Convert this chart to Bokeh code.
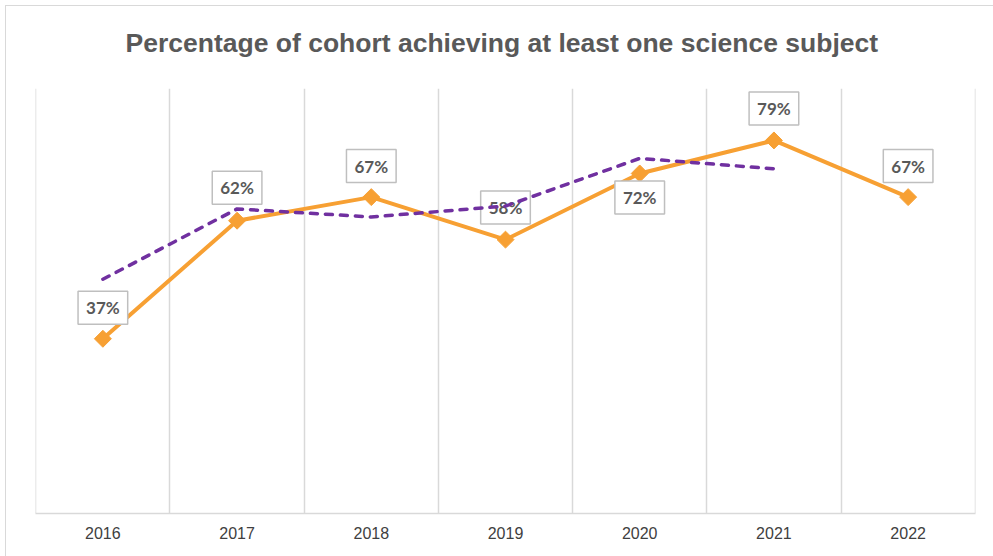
import math
from bokeh.plotting import figure
from bokeh.layouts import column
from bokeh.models import Range1d, FixedTicker, ColumnDataSource
from bokeh.core.properties import value
from bokeh.embed import file_html
from bokeh.resources import INLINE

# ---- data ----
years = [2016, 2017, 2018, 2019, 2020, 2021, 2022]
tick_labels = ["2016", "2017", "2018", "2019", "2020", "2021", "2022"]
cohort_pct = [37, 62, 67, 58, 72, 79, 67]
comparison_years = [2016, 2017, 2018, 2019, 2020, 2021]
comparison_pct = [49.6, 64.5, 62.8, 65.1, 75.2, 73.0]
data_labels = ["37%", "62%", "67%", "58%", "72%", "79%", "67%"]
title_text = "Percentage  of cohort achieving at least one science subject"

# ---- styles ----
label_offsets = [-31, -33, -31, -32, 24, -32, -31]
ORANGE = "#F7A033"
PURPLE = "#7030A0"
GRID = "#D9D9D9"
TXT = "#595959"

eps = 0.002
p = figure(width=987, height=561, output_backend="svg", toolbar_location=None,
           x_range=Range1d(min(years) - 0.5 - eps, max(years) + 0.5 + eps),
           y_range=Range1d(0, 90),
           min_border_left=29, min_border_right=18, min_border_bottom=43, min_border_top=60,
           title=title_text)
p.styles = {"margin-top": "-11px"}
p.outline_line_color = None
p.background_fill_color = "white"
p.border_fill_color = "white"

p.title.align = "center"
p.title.text_font = "Liberation Sans"
p.title.text_font_size = "26.5px"
p.title.text_font_style = "bold"
p.title.text_color = TXT
p.title.standoff = 61

p.yaxis.visible = False
p.ygrid.visible = False

bounds = [y - 0.5 for y in years] + [max(years) + 0.5]
p.xgrid.ticker = FixedTicker(ticks=bounds)
p.xgrid.grid_line_color = GRID
p.xgrid.grid_line_width = 1.5

p.xaxis.ticker = FixedTicker(ticks=years)
p.xaxis.major_label_overrides = {y: t for y, t in zip(years, tick_labels)}
p.xaxis.major_tick_line_color = None
p.xaxis.minor_tick_line_color = None
p.xaxis.axis_line_color = GRID
p.xaxis.axis_line_width = 1.5
p.xaxis.major_label_text_font = "Liberation Sans"
p.xaxis.major_label_text_font_size = "16px"
p.xaxis.major_label_text_color = "#404040"
p.xaxis.major_label_standoff = 7

src = ColumnDataSource(dict(x=years, y=cohort_pct, lbl=data_labels, off=label_offsets))
p.line("x", "y", source=src, line_color=ORANGE, line_width=4)
p.scatter("x", "y", source=src, marker="square", angle=math.pi / 4, size=12,
          fill_color=ORANGE, line_color=ORANGE)

p.text("x", "y", text="lbl", source=src, y_offset="off",
       text_align="center", text_baseline="middle",
       text_font=value("Lato"), text_font_style="bold", text_font_size="17px",
       text_color=TXT, padding=(8, 6),
       background_fill_color="white", border_line_color="#BFBFBF", border_line_width=1.5)

p.line(comparison_years, comparison_pct, line_color=PURPLE, line_width=3.5,
       line_dash="7 8", line_cap="round")

page = column(p, styles={"margin-left": "5px", "margin-top": "5px", "overflow": "hidden",
                         "border-top": "1px solid #D9D9D9",
                         "border-left": "1px solid #D9D9D9"})

open("out.html", "w").write(file_html(page, INLINE))
